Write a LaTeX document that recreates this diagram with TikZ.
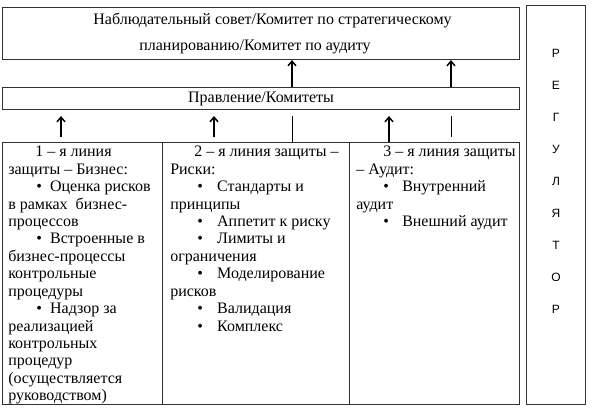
\documentclass[tikz,border=0pt]{standalone}
\usepackage{fontspec}
\setmainfont{Liberation Serif}
\newfontfamily\regfont{Liberation Sans}
\usepackage{tikz}
\usetikzlibrary{arrows.meta,positioning}

\newcommand{\blt}[2]{\hspace*{#1}\makebox[#2][l]{\textbullet}}

\begin{document}
\begin{tikzpicture}[x=0.75pt,y=-0.75pt,>={Straight Barb[length=3.5pt,width=6pt]}]
  \tikzstyle{box}=[draw=black!80,line width=0.8pt,rectangle,anchor=north west,inner sep=0pt]
  \tikzstyle{coltext}=[anchor=north west,inner sep=0pt,align=left,font=\fontsize{12}{13.07}\selectfont]
  \tikzstyle{up}=[->,line width=1.1pt]
  \tikzstyle{stub}=[line width=0.7pt]
  \useasboundingbox (0,0) rectangle (594,411);

  % boxes
  \node[box,minimum width=387.75pt,minimum height=39pt,align=center,
        font=\fontsize{12}{19.5}\selectfont] (sovet) at (2,7)
    {\hspace*{26.25pt}Наблюдательный совет/Комитет по стратегическому\hspace*{9pt}\\
     планированию/Комитет по аудиту\hspace*{9pt}};
  \node[box,minimum width=387.75pt,minimum height=16.5pt,
        font=\fontsize{12}{14}\selectfont] (pravl) at (2,87) {Правление/Комитеты};
  \node[box,minimum width=120pt,minimum height=196.5pt] (col1) at (2,142) {};
  \node[box,minimum width=140.25pt,minimum height=196.5pt] (col2) at (162,142) {};
  \node[box,minimum width=127.5pt,minimum height=196.5pt] (col3) at (349,142) {};
  \node[box,minimum width=44.25pt,minimum height=299.25pt] (reg) at (526,5) {};

  % column texts
  \node[coltext] (t1) at (8,146) {%
    \hspace*{20.25pt}1 – я линия\\
    защиты – Бизнес:\\
    \blt{21pt}{10.4pt}Оценка рисков\\
    в рамках\ \ бизнес-\\
    процессов\\
    \blt{21pt}{10.4pt}Встроенные в\\
    бизнес-процессы\\
    контрольные\\
    процедуры\\
    \blt{21pt}{10.4pt}Надзор за\\
    реализацией\\
    контрольных\\
    процедур\\
    (осуществляется\\
    руководством)};
  \node[coltext] (t2) at (170,146) {%
    \hspace*{18pt}2 – я линия защиты –\\
    Риски:\\
    \blt{20.4pt}{14.8pt}Стандарты и\\
    принципы\\
    \blt{20.4pt}{14.8pt}Аппетит к риску\\
    \blt{20.4pt}{14.8pt}Лимиты и\\
    ограничения\\
    \blt{20.4pt}{14.8pt}Моделирование\\
    рисков\\
    \blt{20.4pt}{14.8pt}Валидация\\
    \blt{20.4pt}{14.8pt}Комплекс};
  \node[coltext] (t3) at (356,146) {%
    \hspace*{20.25pt}3 – я линия защиты\\
    – Аудит:\\
    \blt{20.4pt}{14.1pt}Внутренний\\
    аудит\\
    \blt{20.4pt}{14.1pt}Внешний аудит};

  % regulator letters
  \foreach \l [count=\i from 0] in {Р,Е,Г,У,Л,Я,Т,О,Р}
    \node[font=\regfont\fontsize{9}{9}\selectfont,inner sep=0pt] (r\i) at (556,53+32.1*\i) {\l};

  % arrows
  \coordinate (x1) at (292,0);
  \coordinate (x2) at (451,0);
  \draw[up] (pravl.north -| x1) -- (sovet.south -| x1);
  \draw[up] (pravl.north -| x2) -- (sovet.south -| x2);

  \coordinate (b1) at (61,137);
  \coordinate (b2) at (214,137);
  \coordinate (b3) at (389,142);
  \coordinate (e1) at (61,116);
  \coordinate (e2) at (214,116);
  \coordinate (e3) at (389,116);
  \draw[up] (b1) -- (e1);
  \draw[up] (b2) -- (e2);
  \draw[up] (b3) -- (e3);

  \coordinate (s1) at (292,116);
  \coordinate (s2) at (451,116);
  \coordinate (s3) at (451,137);
  \draw[stub] (s1) -- (col2.north -| s1);
  \draw[stub] (s2) -- (s3);
\end{tikzpicture}
\end{document}
